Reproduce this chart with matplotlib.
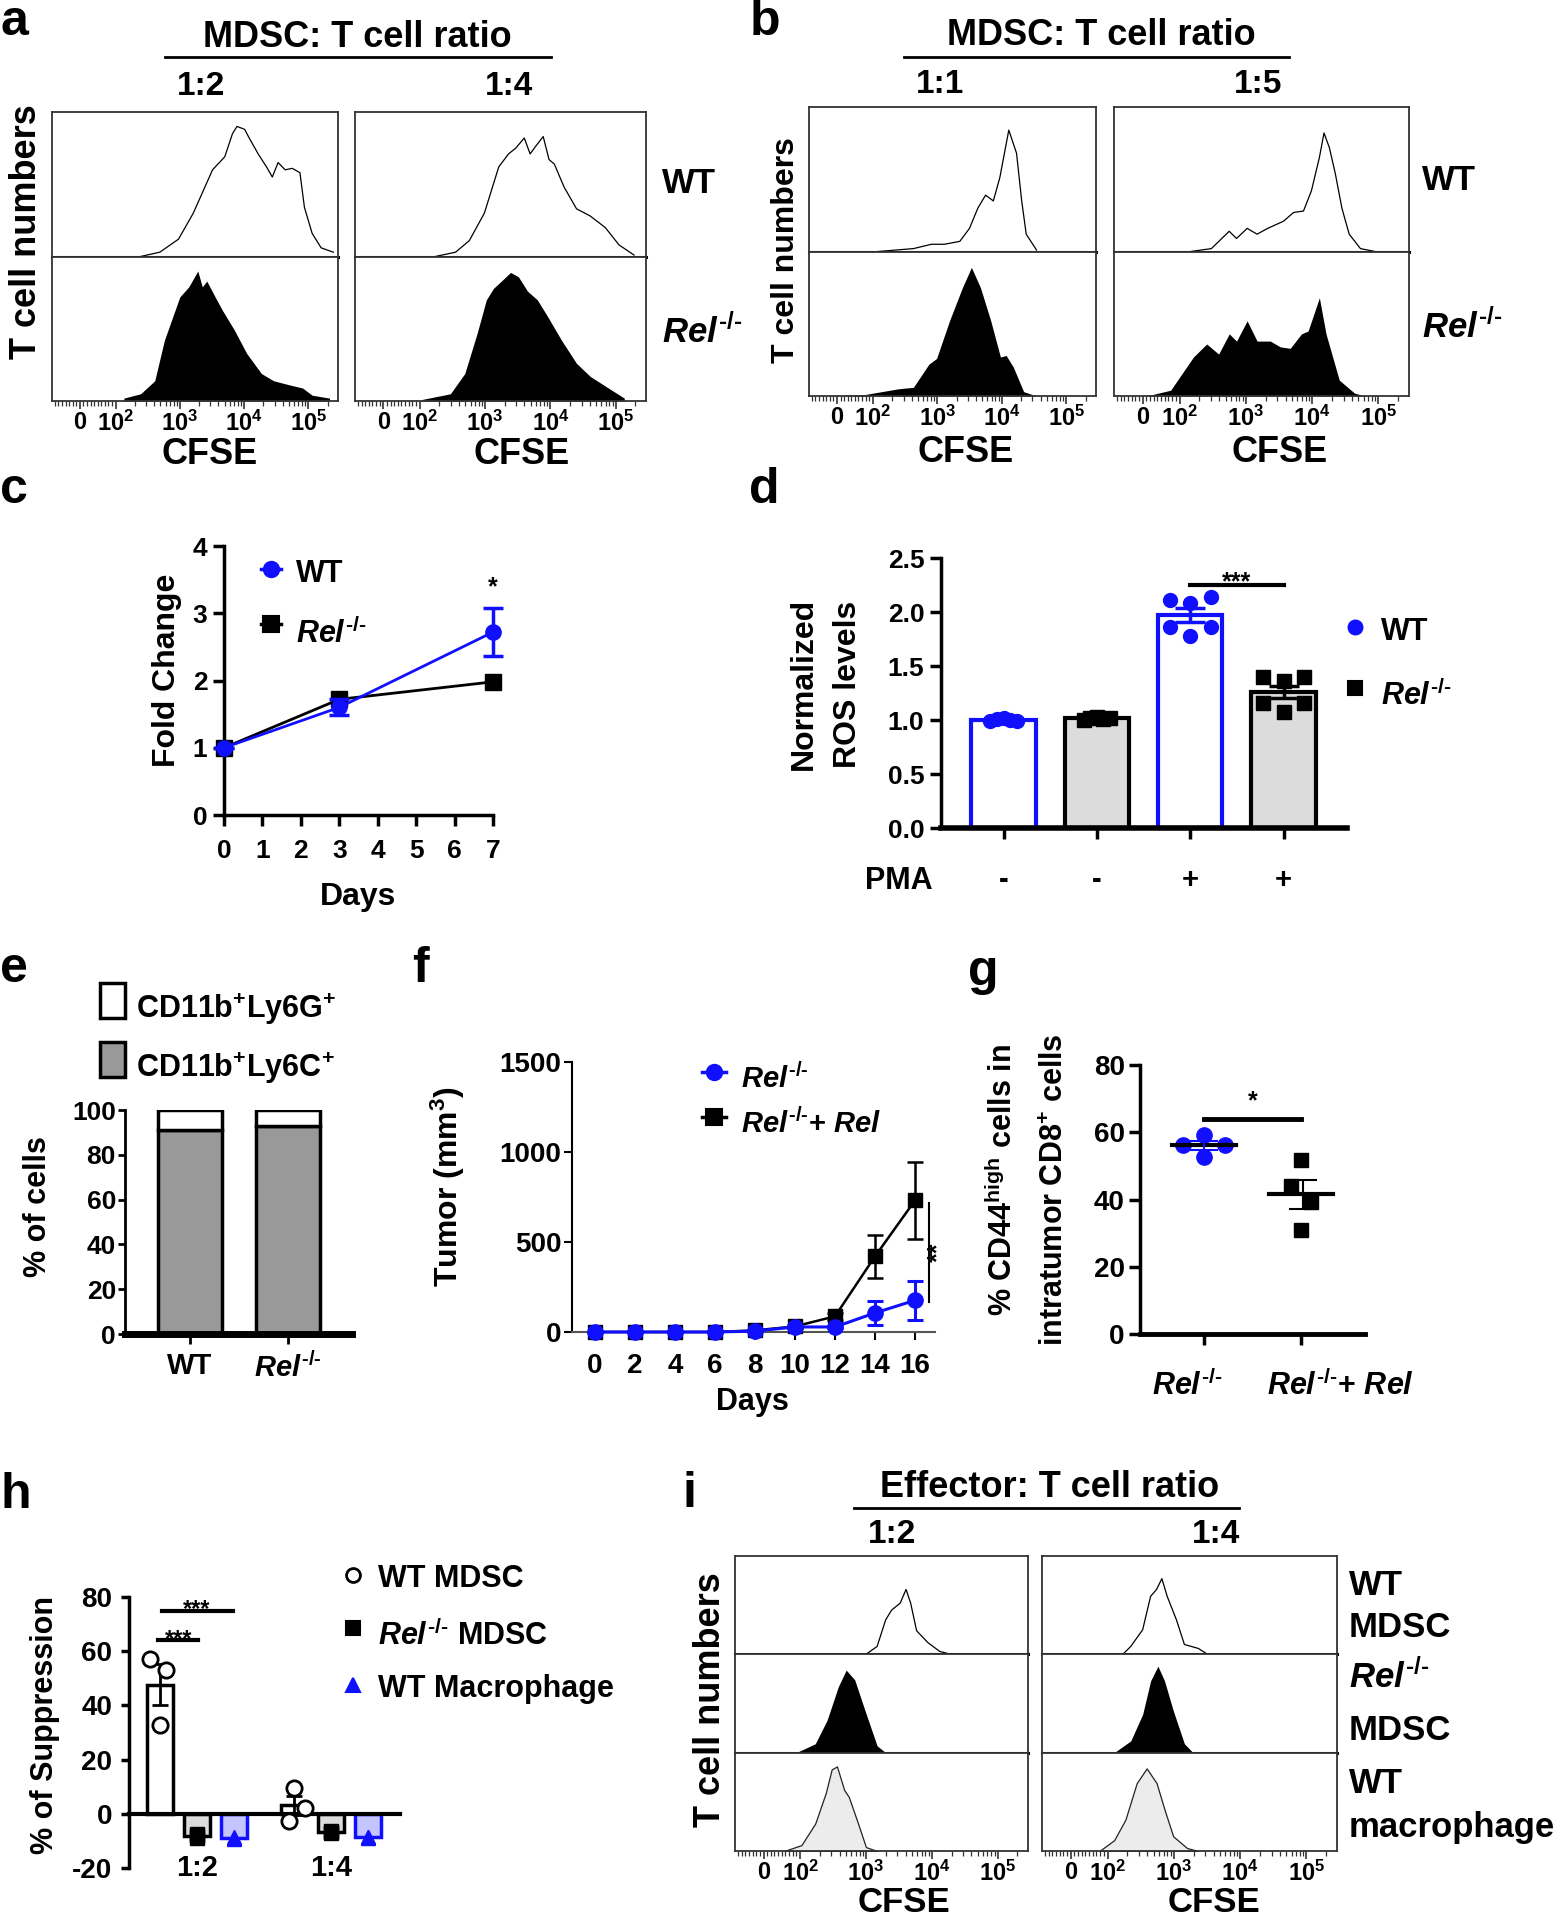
import numpy as np
import matplotlib
matplotlib.use("Agg")
import matplotlib.pyplot as plt
from matplotlib.lines import Line2D
from matplotlib.patches import Rectangle
from matplotlib.ticker import FixedLocator, NullLocator

# ====================== DATA ======================
# flow histograms: log10(CFSE) positions and relative cell counts
A1_WT_LG = [2.39, 2.69, 2.98, 3.21, 3.51, 3.70, 3.82, 3.89, 4.01, 4.08, 4.22, 4.35, 4.44, 4.53, 4.64, 4.75, 4.87, 4.94, 5.06, 5.20, 5.39]
A1_WT_H = [0.0, 0.03, 0.12, 0.30, 0.60, 0.69, 0.85, 0.90, 0.88, 0.82, 0.71, 0.62, 0.55, 0.65, 0.60, 0.61, 0.58, 0.34, 0.16, 0.06, 0.03]
A1_REL_LG = [2.13, 2.39, 2.61, 2.76, 3.00, 3.14, 3.28, 3.35, 3.42, 3.55, 3.66, 3.85, 4.04, 4.27, 4.46, 4.72, 4.91, 5.06, 5.33]
A1_REL_H = [0.02, 0.05, 0.14, 0.42, 0.72, 0.79, 0.90, 0.79, 0.83, 0.72, 0.63, 0.49, 0.33, 0.19, 0.14, 0.11, 0.09, 0.04, 0.02]
A2_WT_LG = [2.24, 2.55, 2.76, 2.99, 3.21, 3.36, 3.47, 3.60, 3.69, 3.77, 3.89, 3.98, 4.06, 4.21, 4.40, 4.61, 4.84, 5.05, 5.28]
A2_WT_H = [0.0, 0.03, 0.11, 0.30, 0.62, 0.71, 0.75, 0.82, 0.71, 0.76, 0.83, 0.67, 0.64, 0.48, 0.33, 0.28, 0.20, 0.08, 0.01]
A2_REL_LG = [2.03, 2.47, 2.69, 2.88, 3.02, 3.13, 3.25, 3.39, 3.51, 3.65, 3.80, 3.95, 4.17, 4.40, 4.61, 4.92, 5.13]
A2_REL_H = [0.01, 0.05, 0.19, 0.47, 0.70, 0.78, 0.83, 0.89, 0.86, 0.76, 0.70, 0.59, 0.42, 0.26, 0.17, 0.08, 0.02]

B1_WT_LG = [2.08, 2.63, 2.91, 3.11, 3.35, 3.50, 3.63, 3.75, 3.87, 3.97, 4.11, 4.23, 4.31, 4.38, 4.54]
B1_WT_H = [0.0, 0.02, 0.05, 0.05, 0.07, 0.16, 0.30, 0.39, 0.35, 0.51, 0.84, 0.68, 0.35, 0.12, 0.01]
B1_REL_LG = [1.30, 1.89, 2.40, 2.63, 2.87, 2.99, 3.19, 3.39, 3.53, 3.67, 3.83, 3.98, 4.07, 4.18, 4.34, 4.54]
B1_REL_H = [0.005, 0.01, 0.05, 0.06, 0.22, 0.26, 0.52, 0.75, 0.89, 0.75, 0.52, 0.27, 0.28, 0.20, 0.03, 0.0]
B2_WT_LG = [2.17, 2.48, 2.75, 2.86, 3.02, 3.17, 3.33, 3.57, 3.72, 3.87, 3.99, 4.11, 4.18, 4.26, 4.35, 4.45, 4.56, 4.73, 4.95]
B2_WT_H = [0.0, 0.02, 0.14, 0.09, 0.16, 0.12, 0.16, 0.21, 0.27, 0.28, 0.42, 0.65, 0.82, 0.72, 0.54, 0.30, 0.12, 0.02, 0.0]
B2_REL_LG = [1.00, 1.88, 2.00, 2.21, 2.41, 2.59, 2.75, 2.86, 3.02, 3.17, 3.37, 3.52, 3.67, 3.84, 3.94, 4.11, 4.21, 4.41, 4.64, 4.80]
B2_REL_H = [0.0, 0.04, 0.13, 0.27, 0.36, 0.29, 0.43, 0.38, 0.52, 0.38, 0.38, 0.34, 0.33, 0.43, 0.45, 0.68, 0.43, 0.11, 0.02, 0.0]

I1_WT_LG = [3.00, 3.17, 3.30, 3.39, 3.52, 3.61, 3.68, 3.77, 3.94, 4.12, 4.29]
I1_WT_H = [0.0, 0.08, 0.35, 0.45, 0.52, 0.66, 0.52, 0.24, 0.12, 0.03, 0.0]
I1_REL_LG = [1.95, 2.23, 2.41, 2.58, 2.70, 2.83, 3.00, 3.17, 3.30]
I1_REL_H = [0.0, 0.09, 0.33, 0.67, 0.84, 0.74, 0.40, 0.07, 0.0]
I1_MAC_LG = [1.75, 2.02, 2.23, 2.39, 2.48, 2.56, 2.67, 2.74, 2.88, 3.00, 3.17]
I1_MAC_H = [0.0, 0.06, 0.28, 0.59, 0.83, 0.86, 0.62, 0.55, 0.28, 0.04, 0.0]
I2_WT_LG = [2.23, 2.35, 2.53, 2.65, 2.74, 2.82, 2.90, 3.04, 3.16, 3.37, 3.51]
I2_WT_H = [0.0, 0.08, 0.25, 0.59, 0.66, 0.77, 0.59, 0.35, 0.10, 0.06, 0.0]
I2_REL_LG = [2.10, 2.35, 2.53, 2.65, 2.76, 2.86, 2.99, 3.16, 3.29]
I2_REL_H = [0.0, 0.12, 0.39, 0.73, 0.88, 0.73, 0.43, 0.09, 0.0]
I2_MAC_LG = [1.89, 2.10, 2.27, 2.44, 2.59, 2.74, 2.86, 2.99, 3.20, 3.37]
I2_MAC_H = [0.0, 0.11, 0.32, 0.69, 0.84, 0.69, 0.42, 0.15, 0.03, 0.0]

CFSE_TICKS = [0, 1e2, 1e3, 1e4, 1e5]
CFSE_TICKLABELS = ['0', r'$10^{2}$', r'$10^{3}$', r'$10^{4}$', r'$10^{5}$']

# panel c
C_DAYS = [0, 3, 7]
C_WT = [1.0, 1.6, 2.72]
C_WT_SEM = [0.0, 0.12, 0.36]
C_REL = [1.0, 1.72, 1.98]
C_REL_SEM = [0.0, 0.03, 0.03]

# panel d
D_PMA = ['-', '-', '+', '+']
D_WT_NOPMA = [0.99, 1.01, 1.02, 1.00, 0.99]
D_REL_NOPMA = [1.00, 1.02, 1.03, 1.01, 1.02]
D_WT_PMA = [2.11, 2.08, 2.14, 1.86, 1.86, 1.78]
D_REL_PMA = [1.40, 1.36, 1.40, 1.16, 1.16, 1.07]

# panel e
REL = r'$\mathit{Rel}^{\text{-/-}}$'
E_GROUPS = ['WT', REL]
E_LY6C = [91, 93]
E_LY6G = [9, 7]

# panel f
F_DAYS = [0, 2, 4, 6, 8, 10, 12, 14, 16]
F_REL = [0, 0, 0, 0, 5, 28, 28, 106, 176]
F_REL_SEM = [0, 0, 0, 0, 2, 8, 8, 66, 109]
F_RESC = [0, 0, 0, 0, 9, 31, 87, 420, 731]
F_RESC_SEM = [0, 0, 0, 0, 3, 10, 20, 120, 215]

# panel g
G_REL = [59.2, 56.2, 56.2, 52.7]
G_RESC = [51.7, 44.1, 39.3, 31.0]

# panel h
H_RATIOS = ['1:2', '1:4']
H_WT = [[57.2, 53.2, 32.6], [9.6, 2.2, -2.5]]
H_REL = [[-8.2, -8.8, -7.6], [-6.5, -7.2, -6.8]]
H_MAC = [[-8.6, -9.4, -9.0], [-8.4, -9.0, -8.7]]

# ====================== STYLE ======================
plt.rcParams['font.family'] = ['Liberation Sans', 'DejaVu Sans']
plt.rcParams['font.weight'] = 'bold'
plt.rcParams['mathtext.fontset'] = 'custom'
plt.rcParams['mathtext.rm'] = 'Liberation Sans:bold'
plt.rcParams['mathtext.bf'] = 'Liberation Sans:bold'
plt.rcParams['mathtext.sf'] = 'Liberation Sans:bold'
plt.rcParams['mathtext.it'] = 'Liberation Sans:italic:bold'
plt.rcParams['mathtext.default'] = 'rm'
plt.rcParams['axes.unicode_minus'] = False

BLUE = '#1010ff'

W, H = 1565, 1920
fig = plt.figure(figsize=(W / 100, H / 100), dpi=100)


def R(x0, y0, x1, y1):
    return [x0 / W, 1 - y1 / H, (x1 - x0) / W, (y1 - y0) / H]


def T(x, y, s, **kw):
    kw.setdefault('ha', 'center')
    kw.setdefault('va', 'baseline')
    return fig.text(x / W, 1 - y / H, s, **kw)


def HL(x0, x1, y, lw=2.0):
    fig.add_artist(Line2D([x0 / W, x1 / W], [1 - y / H] * 2, color='k', lw=lw))


def MK(x, y, marker, ms, color, mfc=None, line=0, mew=1.5):
    if line:
        fig.add_artist(Line2D([(x - line) / W, (x + line) / W], [1 - y / H] * 2,
                              color=color, lw=2.5))
    fig.add_artist(Line2D([x / W], [1 - y / H], marker=marker, ms=ms, color=color,
                          mfc=mfc if mfc else color, mec=color, mew=mew, ls='none'))


def style(ax, lw=2.5, tl=8, ls=18):
    for s in ['top', 'right']:
        ax.spines[s].set_visible(False)
    ax.spines['left'].set_linewidth(lw)
    ax.spines['bottom'].set_linewidth(lw)
    ax.tick_params(direction='out', width=lw, length=tl, labelsize=ls, color='k')
    ax.patch.set_alpha(0)


def finish_errorbar(cont, clip=False):
    for a in cont.get_children():
        a.set_clip_on(clip)


# ---------------- flow boxes ----------------
LINSCALE = 0.5
XLO, XHI = -78, 2.9e5
MINORS = (list(range(-70, 0, 10)) + list(range(10, 100, 10)) +
          [k * 10 ** d for d in (2, 3, 4) for k in range(2, 10)] + [2e5])


def flow_box(x0, x1, y0, y1, curves):
    n = len(curves)
    for i, (lg, hh, kind) in enumerate(curves):
        ya = y0 + (y1 - y0) * i / n
        yb = y0 + (y1 - y0) * (i + 1) / n
        ax = fig.add_axes(R(x0, ya, x1, yb))
        ax.set_xscale('symlog', linthresh=100, linscale=LINSCALE)
        ax.set_xlim(XLO, XHI)
        ax.set_ylim(0, 1)
        xv = 10.0 ** np.asarray(lg, float)
        hv = np.asarray(hh, float)
        if kind == 'open':
            ax.plot(xv, hv, color='k', lw=0.9)
        elif kind == 'filled':
            ax.fill_between(xv, 0, hv, color='k', lw=0)
        else:
            ax.fill_between(xv, 0, hv, facecolor='#ececec', edgecolor='#222222', lw=0.9)
        for sp in ax.spines.values():
            sp.set_linewidth(1.3)
            sp.set_color('#333333')
        if i < n - 1:
            ax.spines['bottom'].set_linewidth(2.2)
            ax.spines['bottom'].set_color('k')
        ax.set_yticks([])
        if i == n - 1:
            ax.set_xticks(CFSE_TICKS)
            ax.set_xticklabels(CFSE_TICKLABELS)
            ax.xaxis.set_minor_locator(FixedLocator(MINORS))
            ax.tick_params(axis='x', which='major', length=6, width=1.2, pad=1,
                           labelsize=17, color='#333333')
            ax.tick_params(axis='x', which='minor', length=3.5, width=0.9, color='#333333')
        else:
            ax.set_xticks([])
            ax.xaxis.set_minor_locator(NullLocator())


# ============ panel a ============
T(0, 35, 'a', fontsize=36, ha='left')
T(357, 47, 'MDSC: T cell ratio', fontsize=26)
HL(165, 551, 57)
T(201, 95, '1:2', fontsize=24)
T(509, 95, '1:4', fontsize=24)
flow_box(52, 338, 112, 401, [(A1_WT_LG, A1_WT_H, 'open'), (A1_REL_LG, A1_REL_H, 'filled')])
flow_box(355, 646, 112, 401, [(A2_WT_LG, A2_WT_H, 'open'), (A2_REL_LG, A2_REL_H, 'filled')])
T(27, 232, 'T cell numbers', fontsize=26, rotation=90, va='center')
T(662, 193, 'WT', fontsize=25, ha='left')
T(662, 343, REL, fontsize=25, ha='left')
T(210, 464, 'CFSE', fontsize=26)
T(522, 464, 'CFSE', fontsize=26)

# ============ panel b ============
T(750, 35, 'b', fontsize=36, ha='left')
T(1101, 45, 'MDSC: T cell ratio', fontsize=26)
HL(904, 1289, 57)
T(940, 93, '1:1', fontsize=24)
T(1258, 93, '1:5', fontsize=24)
flow_box(809, 1096, 107, 396, [(B1_WT_LG, B1_WT_H, 'open'), (B1_REL_LG, B1_REL_H, 'filled')])
flow_box(1114, 1409, 107, 396, [(B2_WT_LG, B2_WT_H, 'open'), (B2_REL_LG, B2_REL_H, 'filled')])
T(786, 250, 'T cell numbers', fontsize=23, rotation=90, va='center')
T(1422, 190, 'WT', fontsize=25, ha='left')
T(1422, 338, REL, fontsize=25, ha='left')
T(966, 462, 'CFSE', fontsize=26)
T(1280, 462, 'CFSE', fontsize=26)

# ============ panel c ============
T(0, 503, 'c', fontsize=36, ha='left')
axc = fig.add_axes(R(224, 546, 493, 815))
style(axc)
e1 = axc.errorbar(C_DAYS, C_REL, yerr=C_REL_SEM, color='k', marker='s', ms=12, lw=2,
                  elinewidth=2.5, capsize=6, capthick=2.5, zorder=3)
e2 = axc.errorbar(C_DAYS, C_WT, yerr=C_WT_SEM, color=BLUE, marker='o', ms=11, lw=2,
                  elinewidth=2.5, capsize=7, capthick=2.5, zorder=4)
finish_errorbar(e1)
finish_errorbar(e2)
axc.set_xlim(0, 7)
axc.set_ylim(0, 4)
axc.set_xticks(range(8))
axc.set_yticks(range(5))
axc.tick_params(axis='x', pad=9, labelsize=19)
axc.tick_params(axis='y', pad=4, labelsize=19)
axc.text(C_DAYS[-1], C_WT[-1] + C_WT_SEM[-1] + 0.12, '*', ha='center', va='bottom', fontsize=18)
T(167, 670, 'Fold Change', fontsize=23, rotation=90, va='center')
T(358, 905, 'Days', fontsize=23)
MK(271, 569, 'o', 11, BLUE, line=10)
T(296, 582, 'WT', fontsize=22, ha='left')
MK(271, 624, 's', 11, 'k', line=10)
T(296, 643, REL, fontsize=22, ha='left')

# ============ panel d ============
T(749, 503, 'd', fontsize=36, ha='left')
axd = fig.add_axes(R(941, 558, 1347, 828))
style(axd)
axd.spines['bottom'].set_linewidth(4)
d_groups = [D_WT_NOPMA, D_REL_NOPMA, D_WT_PMA, D_REL_PMA]
d_means = [np.mean(g) for g in d_groups]
d_sems = [np.std(g, ddof=1) / np.sqrt(len(g)) for g in d_groups]
d_edge = [BLUE, 'k', BLUE, 'k']
d_face = ['white', '#dcdcdc', 'white', '#dcdcdc']
d_mark = ['o', 's', 'o', 's']
xs = np.arange(4)
axd.bar(xs, d_means, width=0.69, color=d_face, edgecolor=d_edge, lw=3, zorder=2)
for i, g in enumerate(d_groups):
    n = len(g)
    jit = np.array([-0.14, -0.07, 0, 0.07, 0.14]) if n == 5 else np.array([-0.22, 0, 0.22, -0.22, 0.22, 0])
    axd.plot(xs[i] + jit, g, ls='none', marker=d_mark[i], ms=10, color=d_edge[i], zorder=3)
    axd.errorbar(xs[i], d_means[i], yerr=d_sems[i], color=d_edge[i], capsize=11,
                 elinewidth=2.5, capthick=2.5, zorder=4)
axd.plot([2, 3], [2.25, 2.25], color='k', lw=3, zorder=5)
axd.text(2.5, 2.21, '***', ha='center', va='baseline', fontsize=18)
axd.set_xlim(-0.67, 3.68)
axd.set_ylim(0, 2.5)
axd.set_xticks(xs)
axd.set_xticklabels(D_PMA, fontsize=21)
axd.tick_params(axis='x', pad=19)
axd.set_yticks([0, 0.5, 1.0, 1.5, 2.0, 2.5])
axd.set_yticklabels(['%.1f' % v for v in [0, 0.5, 1.0, 1.5, 2.0, 2.5]])
axd.tick_params(axis='y', pad=4, labelsize=19)
T(899, 889, 'PMA', fontsize=22)
T(804, 684, 'Normalized', fontsize=23, rotation=90, va='center')
T(848, 684, 'ROS levels', fontsize=23, rotation=90, va='center')
MK(1355, 627, 'o', 10, BLUE)
T(1381, 640, 'WT', fontsize=22, ha='left')
MK(1355, 688, 's', 10, 'k')
T(1381, 705, REL, fontsize=22, ha='left')

# ============ panel e ============
T(0, 982, 'e', fontsize=36, ha='left')
axe = fig.add_axes(R(125, 1110, 352, 1334))
style(axe, lw=2)
axe.spines['bottom'].set_linewidth(5)
axe.bar([0, 1], E_LY6C, width=0.65, color='#999999', edgecolor='k', lw=2.5, zorder=2)
axe.bar([0, 1], E_LY6G, bottom=E_LY6C, width=0.65, color='white', edgecolor='k', lw=2.5, zorder=2)
axe.set_xlim(-0.66, 1.65)
axe.set_ylim(0, 100)
axe.set_xticks([0, 1])
axe.set_xticklabels(E_GROUPS, fontsize=21)
axe.set_yticks(range(0, 101, 20))
axe.tick_params(axis='y', length=5, pad=1.5, labelsize=19)
axe.tick_params(axis='x', length=7, pad=6)
T(38, 1207, '% of cells', fontsize=22, rotation=90, va='center')
fig.add_artist(Rectangle((100 / W, 1 - 1018 / H), 25 / W, 35 / H, transform=fig.transFigure,
                         facecolor='white', edgecolor='k', lw=2.5))
fig.add_artist(Rectangle((100 / W, 1 - 1077 / H), 25 / W, 35 / H, transform=fig.transFigure,
                         facecolor='#999999', edgecolor='k', lw=2.5))
T(136, 1018, r'CD11b$^{+}$Ly6G$^{+}$', fontsize=22, ha='left')
T(136, 1077, r'CD11b$^{+}$Ly6C$^{+}$', fontsize=22, ha='left')

# ============ panel f ============
T(412, 982, 'f', fontsize=36, ha='left')
axf = fig.add_axes(R(572, 1062, 935, 1332))
style(axf, lw=1.5, tl=6)
axf.spines['bottom'].set_color('#555555')
ef1 = axf.errorbar(F_DAYS, F_RESC, yerr=F_RESC_SEM, color='k', marker='s', ms=10.5, lw=1.8,
                   elinewidth=1.8, capsize=6, capthick=1.8, zorder=3)
ef2 = axf.errorbar(F_DAYS, F_REL, yerr=F_REL_SEM, color=BLUE, marker='o', ms=11, lw=2.2,
                   elinewidth=2.2, capsize=6, capthick=2.2, zorder=4)
finish_errorbar(ef1)
finish_errorbar(ef2)
axf.set_xlim(-1.15, 17)
axf.set_ylim(0, 1500)
axf.set_xticks(F_DAYS)
axf.set_yticks([0, 500, 1000, 1500])
axf.tick_params(axis='y', pad=1.5, labelsize=20)
axf.tick_params(axis='x', pad=9, labelsize=20)
axf.plot([16.7, 16.7], [167, 717], color='k', lw=1.5, clip_on=False)
axf.text(17.15, 442, '**', rotation=90, ha='center', va='center', fontsize=18, clip_on=False)
T(448, 1187, r'Tumor (mm$^{3}$)', fontsize=23, rotation=90, va='center')
T(752, 1410, 'Days', fontsize=22)
MK(714, 1072, 'o', 11, BLUE, line=12)
T(741, 1088, REL, fontsize=21, ha='left')
MK(714, 1117, 's', 11, 'k', line=12)
T(741, 1133, REL + r'+ $\mathit{Rel}$', fontsize=21, ha='left')

# ============ panel g ============
T(968, 985, 'g', fontsize=36, ha='left')
axg = fig.add_axes(R(1140, 1065, 1365, 1334))
style(axg)
axg.spines['bottom'].set_linewidth(3.5)
g_groups = [G_REL, G_RESC]
g_col = [BLUE, 'k']
g_mark = ['o', 's']
g_jit = [np.array([0, -0.22, 0.22, 0]), np.array([0, -0.1, 0.1, 0])]
for i, g in enumerate(g_groups):
    m = np.mean(g)
    s = np.std(g, ddof=1) / np.sqrt(len(g))
    axg.plot(i + g_jit[i], g, ls='none', marker=g_mark[i], ms=11 if i == 0 else 10,
             color=g_col[i], zorder=3)
    axg.plot([i - 0.33, i + 0.33], [m, m], color='k', lw=3, zorder=4)
    axg.errorbar(i + (0 if i == 0 else 0.02), m, yerr=s, color=g_col[i], capsize=10,
                 elinewidth=1.5, capthick=1.5, zorder=5)
axg.plot([0, 1], [64, 64], color='k', lw=3.5)
axg.text(0.5, 65.5, '*', ha='center', va='bottom', fontsize=18)
axg.set_xlim(-0.66, 1.66)
axg.set_ylim(0, 80)
axg.set_xticks([0, 1])
axg.set_xticklabels(['', ''])
axg.set_yticks(range(0, 81, 20))
axg.tick_params(axis='y', pad=3, labelsize=20)
T(1003, 1180, r'% CD44$^{high}$ cells in', fontsize=22, rotation=90, va='center')
T(1055, 1190, r'intratumor CD8$^{+}$ cells', fontsize=22, rotation=90, va='center')
T(1187, 1395, REL, fontsize=22)
T(1340, 1395, REL + r'+ $\mathit{Rel}$', fontsize=22)

# ============ panel h ============
T(0, 1508, 'h', fontsize=36, ha='left')
axh = fig.add_axes(R(129, 1597, 400, 1868))
style(axh, lw=2.5, tl=6)
axh.spines['bottom'].set_position(('data', 0))
axh.spines['bottom'].set_linewidth(3)
grp_start = [0.0, 3.62]
h_sets = [(H_WT, 'white', 'k', 'o'), (H_REL, '#dcdcdc', 'k', 's'), (H_MAC, '#c4c4ff', BLUE, '^')]
h_jit = [np.array([-0.28, 0.16, 0.0]), np.array([0.0, 0.3, -0.14])]
for gi in range(2):
    for bi, (vals, fc, ec, mk) in enumerate(h_sets):
        v = vals[gi]
        xpos = grp_start[gi] + bi
        m = np.mean(v)
        s = np.std(v, ddof=1) / np.sqrt(len(v))
        axh.bar(xpos, m, width=0.7, color=fc, edgecolor=ec, lw=2.5, zorder=2)
        if bi == 0:
            axh.plot(xpos + h_jit[gi], v, ls='none', marker='o', ms=11, mfc='white',
                     mec='k', mew=2, zorder=4)
            axh.errorbar(xpos, m, yerr=s, color='k', capsize=6, elinewidth=2, capthick=2, zorder=3)
        else:
            axh.plot(np.full(len(v), xpos), v, ls='none', marker=mk, ms=10, color=ec, zorder=4)
axh.plot([-0.05, 1.03], [64, 64], color='k', lw=3)
axh.text(0.5, 62, '***', ha='center', va='baseline', fontsize=17)
axh.plot([0.05, 1.97], [75, 75], color='k', lw=3)
axh.text(1.0, 73, '***', ha='center', va='baseline', fontsize=17)
for gi, lab in enumerate(H_RATIOS):
    axh.text(grp_start[gi] + 1, -20, lab, ha='center', va='center', fontsize=21)
axh.set_xlim(-0.84, 6.49)
axh.set_ylim(-20, 80)
axh.set_xticks([])
axh.set_yticks(range(-20, 81, 20))
axh.tick_params(axis='y', pad=6, labelsize=20)
T(45, 1725, '% of Suppression', fontsize=22, rotation=90, va='center')
MK(353, 1575, 'o', 10, 'k', mfc='white', mew=2)
T(378, 1587, 'WT MDSC', fontsize=22, ha='left')
MK(353, 1628, 's', 10, 'k')
T(378, 1645, REL + ' MDSC', fontsize=22, ha='left')
MK(353, 1685, '^', 10, BLUE)
T(378, 1697, 'WT Macrophage', fontsize=22, ha='left')

# ============ panel i ============
T(683, 1507, 'i', fontsize=36, ha='left')
T(1050, 1497, 'Effector: T cell ratio', fontsize=26)
HL(854, 1239, 1508)
T(892, 1543, '1:2', fontsize=24)
T(1216, 1543, '1:4', fontsize=24)
flow_box(735, 1028, 1556, 1851, [(I1_WT_LG, I1_WT_H, 'open'), (I1_REL_LG, I1_REL_H, 'filled'),
                                 (I1_MAC_LG, I1_MAC_H, 'grey')])
flow_box(1042, 1337, 1556, 1851, [(I2_WT_LG, I2_WT_H, 'open'), (I2_REL_LG, I2_REL_H, 'filled'),
                                  (I2_MAC_LG, I2_MAC_H, 'grey')])
T(711, 1700, 'T cell numbers', fontsize=26, rotation=90, va='center')
T(1349, 1595, 'WT', fontsize=25, ha='left')
T(1349, 1637, 'MDSC', fontsize=25, ha='left')
T(1349, 1688, REL, fontsize=25, ha='left')
T(1349, 1740, 'MDSC', fontsize=25, ha='left')
T(1349, 1793, 'WT', fontsize=25, ha='left')
T(1349, 1837, 'macrophage', fontsize=25, ha='left')
T(904, 1919, 'CFSE', fontsize=25, va='bottom')
T(1214, 1919, 'CFSE', fontsize=25, va='bottom')

fig.savefig('out.png', dpi=100, facecolor='white')
